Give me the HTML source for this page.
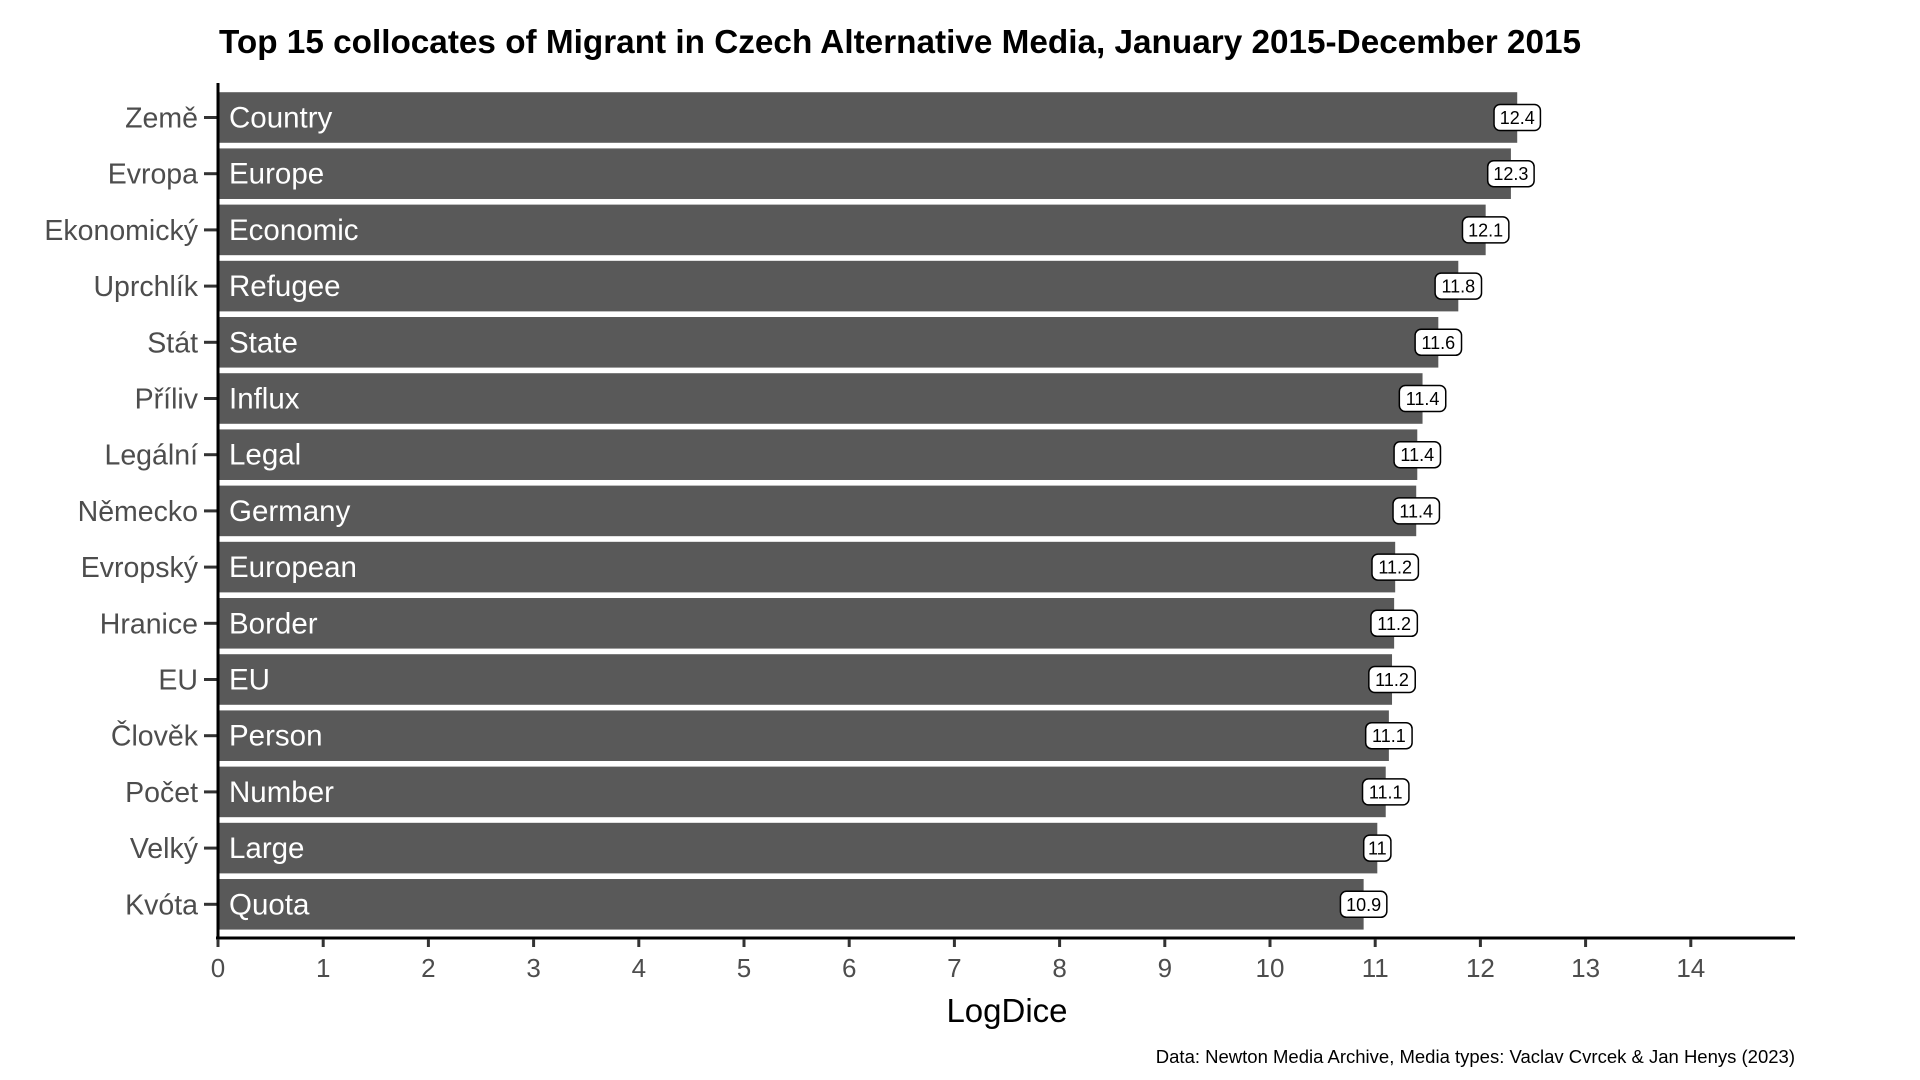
<!DOCTYPE html>
<html><head><meta charset="utf-8"><style>
html,body{margin:0;padding:0;background:#fff;}
svg{display:block;font-family:"Liberation Sans",Arial,sans-serif;}
</style></head><body>
<svg id="chart" width="1920" height="1080" viewBox="0 0 1920 1080" xmlns="http://www.w3.org/2000/svg">
<text x="219" y="53" font-size="33" font-weight="bold" fill="#000" textLength="1362" lengthAdjust="spacingAndGlyphs">Top 15 collocates of Migrant in Czech Alternative Media, January 2015-December 2015</text>
<g id="bars"></g>
<g id="axes"></g>
<text x="1007" y="1022" font-size="33" text-anchor="middle" fill="#000">LogDice</text>
<text x="1795" y="1063" font-size="18.5" text-anchor="end" fill="#000">Data: Newton Media Archive, Media types: Vaclav Cvrcek &amp; Jan Henys (2023)</text>
</svg>
<script>
const czech = ["Země","Evropa","Ekonomický","Uprchlík","Stát","Příliv","Legální","Německo","Evropský","Hranice","EU","Člověk","Počet","Velký","Kvóta"];
const english = ["Country","Europe","Economic","Refugee","State","Influx","Legal","Germany","European","Border","EU","Person","Number","Large","Quota"];
const values = [12.35,12.29,12.05,11.79,11.6,11.45,11.4,11.39,11.19,11.18,11.16,11.13,11.1,11.02,10.89];
const valueLabels = ["12.4","12.3","12.1","11.8","11.6","11.4","11.4","11.4","11.2","11.2","11.2","11.1","11.1","11","10.9"];
const xTicks = [0,1,2,3,4,5,6,7,8,9,10,11,12,13,14];

const NS="http://www.w3.org/2000/svg";
const x0=218, unit=105.2, axisEnd=1795;
const step=56.2, firstCenter=117.5, axisY=937, plotTop=83;
const xs=v=>x0+v*unit;
const yc=i=>firstCenter+step*i;
function mk(tag,attrs,parent){const e=document.createElementNS(NS,tag);for(const k in attrs)e.setAttribute(k,attrs[k]);parent.appendChild(e);return e;}
const bars=document.getElementById('bars'), axes=document.getElementById('axes');
const bh=step*0.9;
values.forEach((v,i)=>{
  const r=mk('rect',{x:x0,y:yc(i)-bh/2,width:xs(v)-x0,height:bh,fill:'#595959'},bars);
  
  
  const t=mk('text',{x:x0+11,y:yc(i)+10,'font-size':29.5,fill:'#fff'},bars);
  t.textContent=english[i];
  
  
  const yl=mk('text',{x:198,y:yc(i)+10,'font-size':28.5,fill:'#4d4d4d','text-anchor':'end'},axes);
  yl.textContent=czech[i];
  
  
  mk('line',{x1:204,x2:x0,y1:yc(i),y2:yc(i),stroke:'#333',"stroke-width":3},axes);
  const w=valueLabels[i].length*9.6+8;
  const g=mk('g',{},bars);
  
  
  mk('rect',{x:xs(v)-w/2,y:yc(i)-13,width:w,height:26,rx:6,fill:'#fff',stroke:'#000','stroke-width':1.5},g);
  const vt=mk('text',{x:xs(v),y:yc(i)+6.5,'font-size':18,'text-anchor':'middle',fill:'#000'},g);
  vt.textContent=valueLabels[i];
});
const ya=mk('line',{x1:x0,x2:x0,y1:plotTop,y2:axisY+2,stroke:'#000','stroke-width':3},axes);


const xa=mk('line',{x1:x0-2,x2:axisEnd,y1:axisY+1,y2:axisY+1,stroke:'#000','stroke-width':3},axes);


xTicks.forEach(t=>{
  mk('line',{x1:xs(t),x2:xs(t),y1:axisY+2,y2:axisY+10,stroke:'#333','stroke-width':3},axes);
  const tl=mk('text',{x:xs(t),y:axisY+40,'font-size':26,'text-anchor':'middle',fill:'#4d4d4d'},axes);
  tl.textContent=t;
  
  
});
</script>
</body></html>
